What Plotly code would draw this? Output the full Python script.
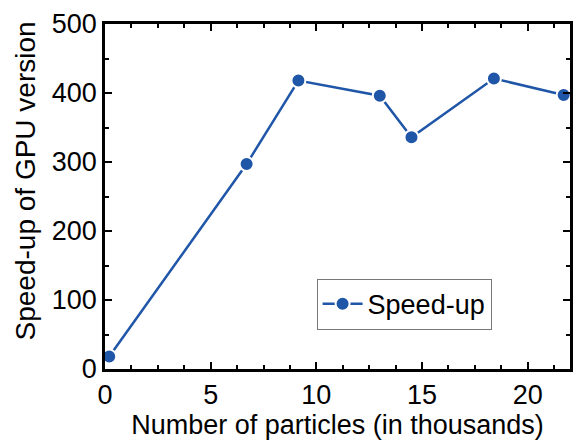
import plotly.graph_objects as go

particles_k = [0.2, 6.7, 9.15, 13.0, 14.5, 18.4, 21.7]
speedup = [18, 297, 418, 396, 336, 421, 397]

x_ticks = [0, 5, 10, 15, 20]
y_ticks = [0, 100, 200, 300, 400, 500]

blue = "#1f56a8"
font_family = "Liberation Sans, Arial, sans-serif"
fs = 27

fig = go.Figure()
fig.add_trace(go.Scatter(
    x=particles_k, y=speedup, mode="lines+markers", name="Speed-up",
    line=dict(color=blue, width=2.5),
    marker=dict(color=blue, size=14, line=dict(color="white", width=2)),
    cliponaxis=False,
))

axis_common = dict(
    showline=True, linecolor="black", linewidth=2.5, mirror="allticks",
    ticks="inside", ticklen=7, tickwidth=2, tickcolor="black",
    showgrid=False, zeroline=False,
    tickfont=dict(size=fs, color="black", family=font_family),
)

fig.update_xaxes(
    range=[0, 22], tickvals=x_ticks,
    minor=dict(dtick=1.25, ticks="inside", ticklen=4, tickwidth=2, tickcolor="black"),
    title=dict(text="Number of particles (in thousands)", font=dict(size=fs, color="black", family=font_family), standoff=2),
    **axis_common,
)
fig.update_yaxes(
    range=[0, 500], tickvals=y_ticks,
    minor=dict(dtick=50, ticks="inside", ticklen=4, tickwidth=2, tickcolor="black"),
    **axis_common,
)

fig.add_annotation(
    text="Speed-up of GPU version", textangle=-90,
    xref="paper", yref="paper", x=-0.171, y=0.545,
    xanchor="center", yanchor="middle", showarrow=False,
    font=dict(size=28, color="black", family=font_family),
)

fig.update_layout(
    width=573, height=440,
    margin=dict(l=105, r=0, t=24, b=71),
    paper_bgcolor="white", plot_bgcolor="white",
    font=dict(family=font_family, color="black", size=fs),
    showlegend=True,
    legend=dict(
        x=0.455, y=0.262, xanchor="left", yanchor="top",
        bordercolor="#777777", borderwidth=1, bgcolor="white",
        font=dict(size=fs, color="black", family=font_family),
        itemwidth=40, tracegroupgap=0,
    ),
)

fig.write_html("out.html")
